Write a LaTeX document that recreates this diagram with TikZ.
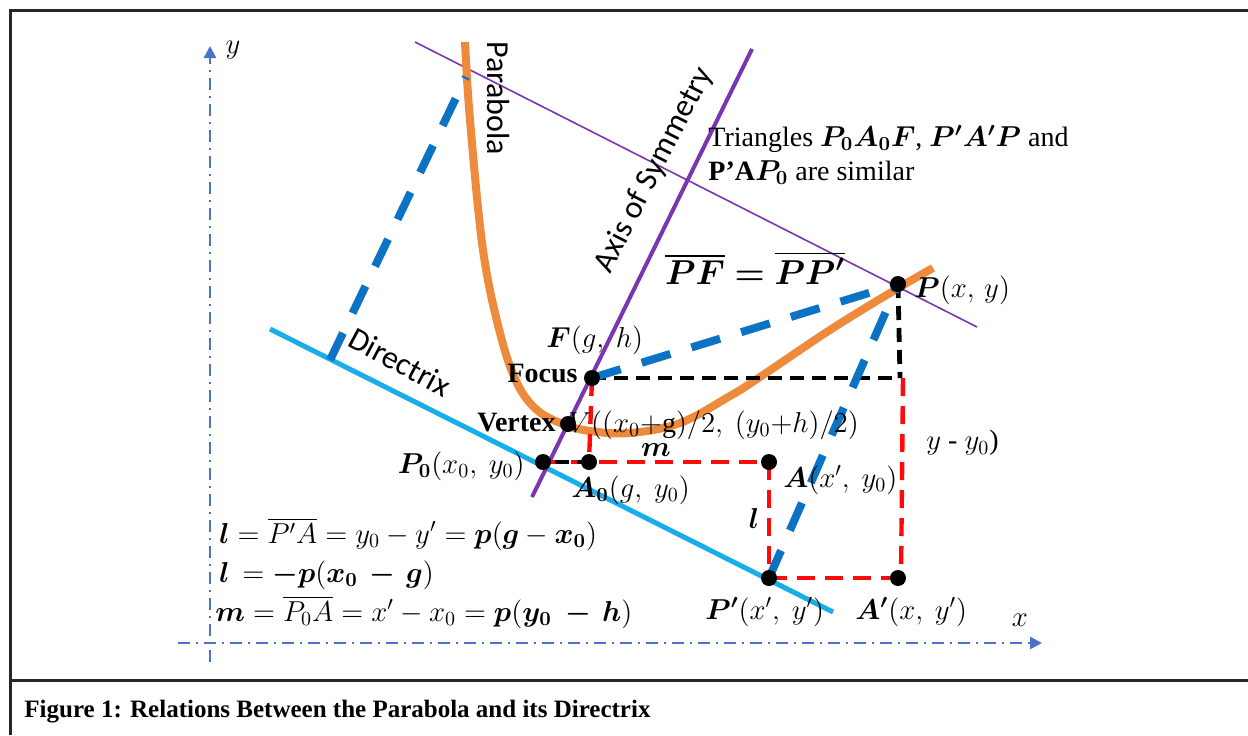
\documentclass[tikz,border=0pt]{standalone}
\usepackage{amsmath,amssymb,bm}
\usepackage{fontspec}
\setmainfont{Liberation Serif}
\newfontfamily\calib{Carlito}
\usetikzlibrary{arrows.meta}
\definecolor{axisblue}{HTML}{4A72C8}
\definecolor{dirblue}{HTML}{1AAEE8}
\definecolor{dashblue}{HTML}{0B72C4}
\definecolor{orng}{HTML}{EE8A3C}
\definecolor{purp}{HTML}{7A35B0}
\definecolor{redd}{HTML}{FF0A0A}
\definecolor{framec}{HTML}{262626}
\tikzset{
  axisline/.style={axisblue, line width=1.3pt, dash pattern=on 6pt off 3pt on 1pt off 3pt, -{Triangle[length=6pt,width=6pt]}},
  bluedash/.style={dashblue, line width=4pt, dash pattern=on 15pt off 11pt},
  blackdash/.style={black, line width=2.4pt, dash pattern=on 7pt off 4pt},
  reddash/.style={redd, line width=2.2pt, dash pattern=on 9pt off 5pt},
  ptdot/.style={circle, fill=black, minimum size=8pt, inner sep=0pt},
  lbl/.style={font=\fontsize{14}{17}\selectfont, inner sep=0pt},
  sanslbl/.style={font=\calib\fontsize{16}{19}\selectfont, inner sep=0pt},
}
\begin{document}
\begin{tikzpicture}[x=0.5pt,y=-0.5pt]
\useasboundingbox (0,0) rectangle (1248,735);
% frame
\draw[framec, line width=1.5pt] (1248,10) -- (10,10) -- (10,735);
\draw[framec, line width=1.5pt] (10,680) -- (1248,680);
% coordinates
\coordinate (ybot) at (210,662);
\coordinate (ytop) at (210,46);
\coordinate (xl) at (178,643);
\coordinate (xr) at (1042,643);
\coordinate (F) at (592,378);
\coordinate (V) at (568,424);
\coordinate (P0) at (543,462);
\coordinate (A0) at (589,462);
\coordinate (A) at (769,462);
\coordinate (Pp) at (769,578);
\coordinate (Ap) at (898,578);
\coordinate (P) at (898,284);
\coordinate (Fx) at (900,378);
\coordinate (Dl) at (270,329);
\coordinate (Dr) at (833,612);
\coordinate (Ab) at (532,497);
\coordinate (At) at (752,49);
\coordinate (Tl) at (415,42);
\coordinate (Tr) at (977,327);
\coordinate (D1) at (330,360);
\coordinate (Q1) at (466,77);
% axes
\draw[axisline] (ybot) -- (ytop);
\draw[axisline] (xl) -- (xr);
% directrix
\draw[dirblue, line width=2.5pt] (Dl) -- (Dr);
% tangent and axis of symmetry
\draw[purp, line width=0.8pt] (Tl) -- (Tr);
\draw[purp, line width=2pt] (Ab) -- (At);
% parabola
\draw[orng, line width=4pt] plot[smooth, tension=0.6] coordinates {(465,42) (470,120) (483,250) (500,333) (517,383) (537,410) (563,424) (590,431) (630,433) (680,423) (730,396) (760,377) (833,328) (900,287) (933,268)};
% dashed lines
\draw[reddash] (F) -- (A0);
\draw[reddash] (P0) -- (A);
\draw[blackdash, dash phase=5pt] (P0) -- (A0);
\draw[reddash] (A) -- (Pp);
\draw[reddash] (Pp) -- (Ap);
\draw[reddash] ([xshift=1.5pt]Fx) -- ([xshift=1.5pt]Ap);
\draw[blackdash] (F) -- (Fx);
\draw[blackdash] (P) -- (Fx);
\draw[bluedash] (D1) -- (Q1);
\draw[bluedash] (F) -- (P);
\draw[bluedash] (Pp) -- (P);
% dots
\foreach \n in {F,V,P0,A0,A,Pp,Ap,P} \node[ptdot] (d\n) at (\n) {};
% labels
\node[lbl] (ylab) at (233,50) {$y$};
\node[lbl] (xlab) at (1020,620) {$x$};
\node[sanslbl, rotate=-90] (parab) at (498,98) {Parabola};
\node[sanslbl, rotate=63] (axsym) at (654,170) {Axis of Symmetry};
\node[sanslbl, rotate=-28] (direc) at (400,362) {Directrix};
\node[lbl, anchor=west, align=left] (tri) at (708,155) {Triangles $\boldsymbol{P_0A_0F}$, $\boldsymbol{P'A'P}$ and\\ \textbf{P’A}$\boldsymbol{P_0}$ are similar};
\node[font=\fontsize{17}{20}\selectfont, inner sep=0pt] (pfeq) at (755,268) {$\boldsymbol{\overline{PF} = \overline{PP'}}$};
\node[lbl, anchor=west] (lP) at (914,290) {$\boldsymbol{P}(x,\,y)$};
\node[lbl, anchor=west] (lF) at (546,340) {$\boldsymbol{F}(g,\ h)$};
\node[lbl, anchor=east] (lFoc) at (578,373) {\textbf{Focus}};
\node[lbl, anchor=east] (lVer) at (556,423) {\textbf{Vertex}};
\node[lbl, anchor=west] (lV) at (568,425) {$V((x_0{+}\mathrm{g})/2,\ (y_0{+}h)/2)$};
\node[lbl, anchor=east] (lP0) at (525,466) {$\boldsymbol{P_0}(x_0,\ y_0)$};
\node[lbl, anchor=west] (lA0) at (571,490) {$\boldsymbol{A_0}(g,\ y_0)$};
\node[lbl] (lm) at (656,450) {$\boldsymbol{m}$};
\node[lbl, anchor=west] (lA) at (783,480) {$\boldsymbol{A}(x',\ y_0)$};
\node[lbl, anchor=west] (lyy) at (926,443) {$y$ - $y_0$)};
\node[lbl] (ll) at (754,518) {$\boldsymbol{l}$};
\node[lbl, anchor=west] (lPp) at (705,612) {$\boldsymbol{P'}(x',\ y')$};
\node[lbl, anchor=west] (lAp) at (855,612) {$\boldsymbol{A'}(x,\ y')$};
\node[lbl, anchor=west] (f1) at (219,534) {$\boldsymbol{l} = \overline{P'A} = y_0 - y' = \boldsymbol{p}(\boldsymbol{g} - \boldsymbol{x_0})$};
\node[lbl, anchor=west] (f2) at (219,575) {$\boldsymbol{l} \,= \boldsymbol{-p}(\boldsymbol{x_0} \,\boldsymbol{-}\, \boldsymbol{g})$};
\node[lbl, anchor=west] (f3) at (215,612) {$\boldsymbol{m} = \overline{P_0A} = x' - x_0 = \boldsymbol{p}(\boldsymbol{y_0}\ \boldsymbol{-}\, \boldsymbol{h})$};
% caption
\node[font=\bfseries\fontsize{12.5}{15}\selectfont, inner sep=0pt, anchor=west] (cap) at (24,712) {Figure 1: Relations Between the Parabola and its Directrix};
\end{tikzpicture}
\end{document}
